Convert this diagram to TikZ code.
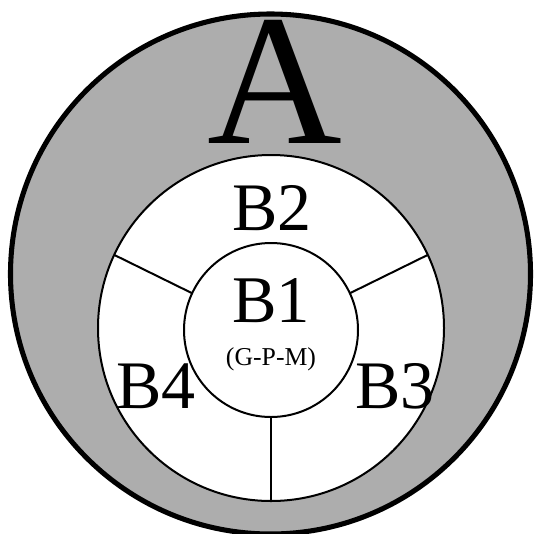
\documentclass[tikz,border=0pt]{standalone}
\usepackage{fontspec}
\setmainfont{Liberation Serif}
\begin{document}
\begin{tikzpicture}[x=0.75pt,y=-0.75pt,
  ring/.style={circle,draw=black,inner sep=0pt,outer sep=0pt},
  lbl/.style={anchor=base,inner sep=0pt,font=\fontsize{51pt}{51pt}\selectfont},
  divider/.style={draw=black,line width=1.5pt}]
\useasboundingbox (0,0) rectangle (535,533);
\fill[white] (0,0) rectangle (535,533);
\node[ring,line width=3.8pt,fill=black!32,minimum size=390pt] (outer) at (270.5,274) {};
\node[ring,line width=1.5pt,fill=white,minimum size=259.5pt] (mid) at (271,328) {};
\node[ring,line width=1.5pt,fill=white,minimum size=130.5pt] (inner) at (271,330) {};
\draw[divider] (inner.155) -- (mid.155);
\draw[divider] (inner.25) -- (mid.25);
\draw[divider] (inner.270) -- (mid.270);
\node[anchor=base,inner sep=0pt,font=\fontsize{140pt}{140pt}\selectfont] (A) at (275,143) {A};
\node[lbl] (B2) at (272,230) {B2};
\node[lbl,font=\fontsize{50pt}{50pt}\selectfont] (B1) at (271,322) {B1};
\node[anchor=base,inner sep=0pt,font=\fontsize{19.3pt}{19.3pt}\selectfont] (gpm) at (271,365) {(G-P-M)};
\node[lbl] (B4) at (156,408) {B4};
\node[lbl] (B3) at (395,408) {B3};
\end{tikzpicture}
\end{document}
